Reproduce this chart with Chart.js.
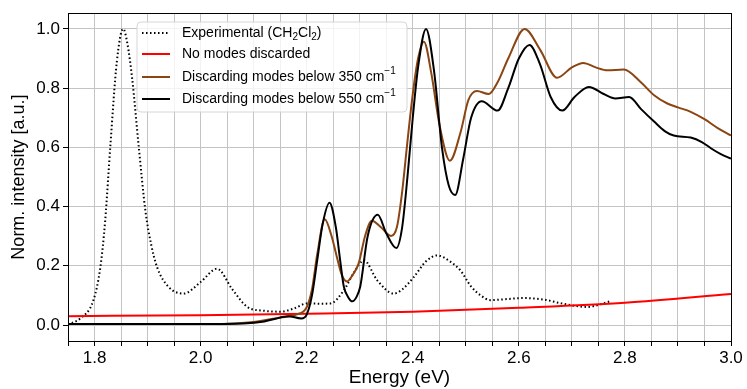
<!DOCTYPE html>
<html>
<head>
<meta charset="utf-8">
<script src="https://cdn.jsdelivr.net/npm/chart.js@4"></script>
<style>html,body{margin:0;padding:0;background:#fff;}</style>
</head>
<body>
<canvas id="myChart" width="747" height="389"></canvas>
<script>
// experimental spectrum (CH2Cl2)
const expEnergy = [1.75, 1.773, 1.798, 1.811, 1.82, 1.83, 1.842, 1.854, 1.862, 1.871, 1.883, 1.896, 1.907, 1.918, 1.94, 1.968, 2.0, 2.031, 2.06, 2.088, 2.12, 2.15, 2.175, 2.201, 2.225, 2.245, 2.27, 2.29, 2.308, 2.333, 2.364, 2.38, 2.402, 2.425, 2.446, 2.47, 2.49, 2.51, 2.528, 2.547, 2.58, 2.609, 2.647, 2.675, 2.698, 2.729, 2.754, 2.773];
const expValues = [0.002, 0.022, 0.084, 0.195, 0.35, 0.609, 0.888, 1.0, 0.95, 0.832, 0.609, 0.385, 0.27, 0.195, 0.128, 0.106, 0.145, 0.19, 0.12, 0.061, 0.048, 0.045, 0.055, 0.073, 0.072, 0.073, 0.117, 0.18, 0.218, 0.151, 0.106, 0.12, 0.162, 0.215, 0.235, 0.215, 0.184, 0.13, 0.1, 0.084, 0.088, 0.091, 0.086, 0.075, 0.067, 0.061, 0.07, 0.081];

// no modes discarded
const allEnergy = [1.75, 2.0, 2.2, 2.4, 2.6, 2.8, 3.0];
const allValues = [0.030, 0.033, 0.038, 0.045, 0.058, 0.075, 0.105];

// discarding modes below 350 cm-1
const e350 = [1.75, 1.9, 2.0, 2.05, 2.1, 2.15, 2.18, 2.2, 2.21, 2.22, 2.234, 2.247, 2.257, 2.266, 2.276, 2.287, 2.298, 2.31, 2.323, 2.34, 2.359, 2.37, 2.38, 2.39, 2.4, 2.41, 2.421, 2.435, 2.45, 2.47, 2.49, 2.505, 2.521, 2.543, 2.56, 2.58, 2.611, 2.64, 2.672, 2.7, 2.7215, 2.745, 2.767, 2.798, 2.83, 2.855, 2.88, 2.9, 2.924, 2.95, 2.975, 3.0];
const v350 = [0.003, 0.003, 0.003, 0.004, 0.01, 0.025, 0.035, 0.06, 0.12, 0.24, 0.357, 0.3, 0.229, 0.17, 0.147, 0.17, 0.208, 0.3, 0.352, 0.33, 0.301, 0.33, 0.45, 0.62, 0.78, 0.9, 0.957, 0.85, 0.68, 0.555, 0.65, 0.76, 0.79, 0.78, 0.82, 0.9, 1.0, 0.93, 0.835, 0.87, 0.885, 0.87, 0.86, 0.863, 0.82, 0.776, 0.748, 0.735, 0.72, 0.695, 0.665, 0.64];

// discarding modes below 550 cm-1
const e550 = [1.75, 2.0, 2.08, 2.12, 2.15, 2.165, 2.19, 2.2, 2.21, 2.22, 2.23, 2.243, 2.255, 2.263, 2.27, 2.278, 2.286, 2.294, 2.301, 2.315, 2.334, 2.35, 2.369, 2.38, 2.39, 2.4, 2.41, 2.425, 2.44, 2.455, 2.468, 2.48, 2.495, 2.51, 2.53, 2.56, 2.58, 2.6, 2.62, 2.64, 2.66, 2.682, 2.705, 2.732, 2.76, 2.782, 2.808, 2.83, 2.855, 2.875, 2.892, 2.924, 2.945, 2.962, 2.98, 3.0];
const v550 = [0.003, 0.003, 0.005, 0.012, 0.025, 0.03, 0.022, 0.035, 0.1, 0.22, 0.34, 0.413, 0.33, 0.22, 0.13, 0.095, 0.08, 0.095, 0.13, 0.3, 0.372, 0.31, 0.26, 0.33, 0.5, 0.7, 0.87, 1.0, 0.86, 0.6, 0.47, 0.439, 0.56, 0.7, 0.756, 0.724, 0.8, 0.9, 0.946, 0.88, 0.77, 0.724, 0.77, 0.804, 0.78, 0.765, 0.77, 0.73, 0.687, 0.655, 0.64, 0.633, 0.618, 0.597, 0.578, 0.562];

const xLabelled = [1.8, 2.0, 2.2, 2.4, 2.6, 2.8, 3.0];
const xGrid = [1.75, 1.8, 1.85, 1.9, 1.95, 2.0, 2.05, 2.1, 2.15, 2.2, 2.25, 2.3, 2.35, 2.4, 2.45, 2.5, 2.55, 2.6, 2.65, 2.7, 2.75, 2.8, 2.85, 2.9, 2.95, 3.0];
const yTicks = [0.0, 0.2, 0.4, 0.6, 0.8, 1.0];

const toPts = (xs, ys) => xs.map((x, i) => ({x: x, y: ys[i]}));
const FONT = "'Liberation Sans', Arial, sans-serif";

const legendRows = [
  {parts: [['Experimental (CH'], ['2', 'sub'], ['Cl'], ['2', 'sub'], [')']], color: 'black', dash: [1.5, 2.5], y: 33},
  {parts: [['No modes discarded']], color: 'red', dash: [], y: 54},
  {parts: [['Discarding modes below 350 cm'], ['\u22121', 'sup']], color: '#8B4513', dash: [], y: 77},
  {parts: [['Discarding modes below 550 cm'], ['\u22121', 'sup']], color: 'black', dash: [], y: 99}
];

const framePlugin = {
  id: 'frame',
  afterDraw(chart) {
    const c = chart.ctx, a = chart.chartArea;
    c.save();
    c.strokeStyle = 'black';
    c.lineWidth = 1;
    c.strokeRect(Math.round(a.left) + 0.5, Math.round(a.top) + 0.5, Math.round(a.right - a.left), Math.round(a.bottom - a.top));

    // legend box
    const bx = 137, by = 22, bw = 270, bh = 90, r = 4;
    c.beginPath();
    c.moveTo(bx + r, by);
    c.arcTo(bx + bw, by, bx + bw, by + bh, r);
    c.arcTo(bx + bw, by + bh, bx, by + bh, r);
    c.arcTo(bx, by + bh, bx, by, r);
    c.arcTo(bx, by, bx + bw, by, r);
    c.closePath();
    c.fillStyle = 'rgba(255,255,255,0.8)';
    c.fill();
    c.strokeStyle = '#d6d6d6';
    c.stroke();

    legendRows.forEach(row => {
      c.beginPath();
      c.setLineDash(row.dash);
      c.strokeStyle = row.color;
      c.lineWidth = 2;
      c.moveTo(142, row.y);
      c.lineTo(170, row.y);
      c.stroke();
      c.setLineDash([]);
      let x = 182;
      c.fillStyle = 'black';
      c.textBaseline = 'middle';
      row.parts.forEach(p => {
        let dy = 0;
        if (p[1] === 'sub') { c.font = '10px ' + FONT; dy = 4; }
        else if (p[1] === 'sup') { c.font = '10px ' + FONT; dy = -6; }
        else { c.font = '14px ' + FONT; }
        c.fillText(p[0], x, row.y + dy);
        x += c.measureText(p[0]).width;
      });
    });
    c.restore();
  }
};

const ctx = document.getElementById('myChart').getContext('2d');
const myChart = new Chart(ctx, {
  type: 'line',
  data: {
    datasets: [
      {label: 'Discarding modes below 550 cm-1', data: toPts(e550, v550), borderColor: 'black', borderWidth: 2},
      {label: 'Discarding modes below 350 cm-1', data: toPts(e350, v350), borderColor: '#8B4513', borderWidth: 2},
      {label: 'No modes discarded', data: toPts(allEnergy, allValues), borderColor: 'red', borderWidth: 2},
      {label: 'Experimental (CH2Cl2)', data: toPts(expEnergy, expValues), borderColor: 'black', borderWidth: 2, borderDash: [1.5, 2.5]}
    ]
  },
  options: {
    responsive: false,
    animation: false,
    layout: {padding: {top: 11, right: 16, left: 0, bottom: 0}},
    elements: {
      point: {radius: 0},
      line: {cubicInterpolationMode: 'monotone', fill: false}
    },
    plugins: {legend: {display: false}, tooltip: {enabled: false}},
    scales: {
      x: {
        type: 'linear',
        min: 1.75,
        max: 3.0,
        afterBuildTicks(scale) { scale.ticks = xGrid.map(v => ({value: v})); },
        afterFit(scale) { scale.height = 48; },
        border: {color: 'black'},
        grid: {color: '#c4c4c4', tickColor: 'black', tickLength: 5},
        ticks: {
          autoSkip: false,
          maxRotation: 0,
          padding: 2,
          color: 'black',
          font: {family: FONT, size: 17},
          callback(v) {
            const hit = xLabelled.find(t => Math.abs(t - v) < 1e-6);
            return hit !== undefined ? hit.toFixed(1) : '';
          }
        },
        title: {display: true, text: 'Energy (eV)', color: 'black', font: {family: FONT, size: 19}, padding: {top: 0, bottom: 0}}
      },
      y: {
        min: -0.054,
        max: 1.053,
        afterBuildTicks(scale) { scale.ticks = yTicks.map(v => ({value: v})); },
        afterFit(scale) { scale.width = 68; },
        border: {color: 'black'},
        grid: {color: '#c4c4c4', tickColor: 'black', tickLength: 5},
        ticks: {
          padding: 3,
          color: 'black',
          font: {family: FONT, size: 17},
          callback(v) { return v.toFixed(1); }
        },
        title: {display: true, text: 'Norm. intensity [a.u.]', color: 'black', font: {family: FONT, size: 18}, padding: {top: 8, bottom: 0}}
      }
    }
  },
  plugins: [framePlugin]
});
</script>
</body>
</html>
